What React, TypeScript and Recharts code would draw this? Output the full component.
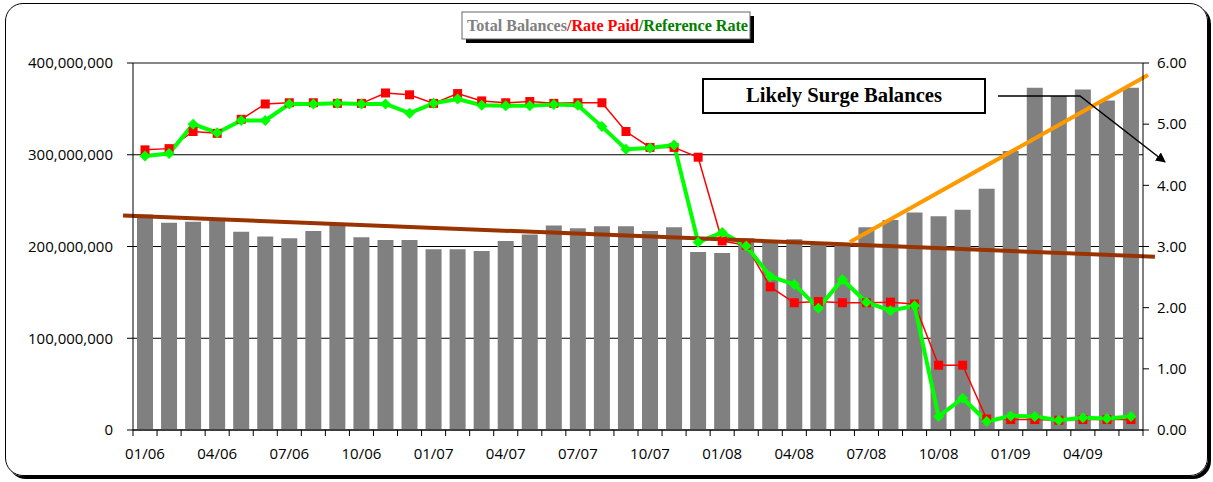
import React from "react";
import {
  ComposedChart,
  Bar,
  Line,
  XAxis,
  YAxis,
  CartesianGrid,
  ReferenceLine,
} from "recharts";

const months = [
  "01/06", "02/06", "03/06", "04/06", "05/06", "06/06", "07/06", "08/06", "09/06", "10/06", "11/06", "12/06",
  "01/07", "02/07", "03/07", "04/07", "05/07", "06/07", "07/07", "08/07", "09/07", "10/07", "11/07", "12/07",
  "01/08", "02/08", "03/08", "04/08", "05/08", "06/08", "07/08", "08/08", "09/08", "10/08", "11/08", "12/08",
  "01/09", "02/09", "03/09", "04/09", "05/09", "06/09",
];

// Total balances, in millions
const totalBalancesM = [
  235, 226, 227, 228, 216, 211, 209, 217, 224, 210, 207, 207,
  197, 197, 195, 206, 213, 223, 220, 222, 222, 217, 221, 194,
  193, 209, 205, 208, 203, 201, 221, 229, 237, 233, 240, 263,
  304, 373, 364, 371, 359, 373,
];

const ratePaid = [
  4.58, 4.6, 4.88, 4.85, 5.08, 5.33, 5.35, 5.35, 5.34, 5.34, 5.51, 5.48,
  5.34, 5.5, 5.38, 5.35, 5.37, 5.34, 5.35, 5.35, 4.88, 4.62, 4.62, 4.46,
  3.09, 3.02, 2.34, 2.08, 2.1, 2.08, 2.08, 2.09, 2.06, 1.06, 1.06, 0.18,
  0.17, 0.17, 0.16, 0.17, 0.17, 0.17,
];

const referenceRate = [
  4.48, 4.52, 5.0, 4.86, 5.06, 5.06, 5.33, 5.33, 5.34, 5.33, 5.33, 5.18,
  5.34, 5.41, 5.31, 5.3, 5.3, 5.32, 5.31, 4.96, 4.59, 4.61, 4.66, 3.07,
  3.23, 3.01, 2.51, 2.38, 1.99, 2.46, 2.09, 1.95, 2.03, 0.22, 0.52, 0.14,
  0.23, 0.22, 0.16, 0.2, 0.19, 0.22,
];

const leftTicks = [0, 100000000, 200000000, 300000000, 400000000];
const rightTicks = [0, 1, 2, 3, 4, 5, 6];

// trend lines (balance units)
const declineTrend = { from: "01/06", fromValue: 232.9e6, to: "06/09", toValue: 189.9e6 };
const surgeTrend = { from: "06/08", fromValue: 200.2e6, to: "06/09", toValue: 376.6e6 };

const data = months.map((m, i) => ({
  month: m,
  balance: totalBalancesM[i] * 1e6,
  paid: ratePaid[i],
  refRate: referenceRate[i],
}));

const W = 1213;
const H = 482;
const LEFT_W = 133;
const RIGHT_W = 70;
const PLOT_W = W - LEFT_W - RIGHT_W;
const BAND = PLOT_W / months.length;

const FONT = "'Open Sans', sans-serif";

const renderXTick = (props: any) => {
  const { x, y, payload, index } = props;
  const half = BAND / 2;
  return (
    <g key={`xt-${index}`}>
      <line x1={x - half} y1={y} x2={x - half} y2={y + 6} stroke="#000" strokeWidth={1} />
      {index === months.length - 1 && (
        <line x1={x + half} y1={y} x2={x + half} y2={y + 6} stroke="#000" strokeWidth={1} />
      )}
      {index % 3 === 0 && (
        <text x={x} y={y + 29} textAnchor="middle" fontFamily={FONT} fontSize={15} fill="#000">
          {payload.value}
        </text>
      )}
    </g>
  );
};

const renderSquareDot = (props: any) => {
  const { cx, cy, index } = props;
  if (cx == null || cy == null) return <g key={`sq-${index}`} />;
  return <rect key={`sq-${index}`} x={cx - 4.5} y={cy - 4.5} width={9} height={9} fill="#FF0000" />;
};

const renderDiamondDot = (props: any) => {
  const { cx, cy, index } = props;
  if (cx == null || cy == null) return <g key={`dm-${index}`} />;
  const r = 5.5;
  return (
    <polygon
      key={`dm-${index}`}
      points={`${cx},${cy - r} ${cx + r},${cy} ${cx},${cy + r} ${cx - r},${cy}`}
      fill="#00FF00"
    />
  );
};

const extendedLine = (startT: number, endT: number, color: string) => (props: any) => {
  const { x1, y1, x2, y2 } = props;
  if ([x1, y1, x2, y2].some((v) => v == null || isNaN(v))) return <g />;
  const dx = x2 - x1;
  const dy = y2 - y1;
  return (
    <line
      x1={x1 + dx * startT}
      y1={y1 + dy * startT}
      x2={x1 + dx * endT}
      y2={y1 + dy * endT}
      stroke={color}
      strokeWidth={4}
    />
  );
};

const declineShape = extendedLine(-0.0223, 1.0243, "#993300");
const surgeShape = extendedLine(0.026, 1.059, "#FF9900");

export default function App() {
  return (
    <div style={{ position: "absolute", left: 0, top: 0, width: W, height: H, background: "#fff" }}>
      <div
        style={{
          position: "absolute",
          left: 5,
          top: 3,
          width: 1203,
          height: 473,
          boxSizing: "border-box",
          border: "1.5px solid #000",
          borderRadius: 18,
          boxShadow: "3px 3px 0 #000",
        }}
      />
      <div style={{ position: "absolute", left: 0, top: 0 }}>
        <ComposedChart
          width={W}
          height={H}
          data={data}
          margin={{ top: 63, right: 0, bottom: 22, left: 0 }}
          barCategoryGap="33%"
        >
          <CartesianGrid yAxisId="left" vertical={false} stroke="#000" strokeWidth={1} />
          <XAxis
            dataKey="month"
            interval={0}
            tickSize={0}
            tickMargin={0}
            height={30}
            tick={renderXTick}
            stroke="#000"
          />
          <YAxis
            yAxisId="left"
            orientation="left"
            width={LEFT_W}
            domain={[0, 400000000]}
            ticks={leftTicks}
            tickFormatter={(v: number) => v.toLocaleString("en-US")}
            tickSize={6}
            tickMargin={14}
            stroke="#000"
            tick={{ fontFamily: FONT, fontSize: 15, fill: "#000" }}
          />
          <YAxis
            yAxisId="right"
            orientation="right"
            width={RIGHT_W}
            domain={[0, 6]}
            ticks={rightTicks}
            tickFormatter={(v: number) => v.toFixed(2)}
            tickSize={6}
            tickMargin={8}
            stroke="#000"
            tick={{ fontFamily: FONT, fontSize: 15, fill: "#000" }}
          />
          <ReferenceLine yAxisId="left" y={400000000} stroke="#888" strokeWidth={2} />
          <Bar yAxisId="left" dataKey="balance" fill="#808080" barSize={16} isAnimationActive={false} />
          <Line
            yAxisId="right"
            dataKey="paid"
            stroke="#FF0000"
            strokeWidth={1.5}
            dot={renderSquareDot}
            activeDot={false}
            isAnimationActive={false}
          />
          <Line
            yAxisId="right"
            dataKey="refRate"
            stroke="#00FF00"
            strokeWidth={4}
            dot={renderDiamondDot}
            activeDot={false}
            isAnimationActive={false}
          />
          <ReferenceLine
            yAxisId="left"
            ifOverflow="visible"
            segment={[
              { x: declineTrend.from, y: declineTrend.fromValue },
              { x: declineTrend.to, y: declineTrend.toValue },
            ]}
            shape={declineShape}
          />
          <ReferenceLine
            yAxisId="left"
            ifOverflow="visible"
            segment={[
              { x: surgeTrend.from, y: surgeTrend.fromValue },
              { x: surgeTrend.to, y: surgeTrend.toValue },
            ]}
            shape={surgeShape}
          />
        </ComposedChart>
      </div>
      <svg
        width={W}
        height={H}
        style={{ position: "absolute", left: 0, top: 0, pointerEvents: "none" }}
      >
        <defs>
          <marker id="arrowHead" markerWidth="10" markerHeight="10" refX="9" refY="5" orient="auto" markerUnits="userSpaceOnUse">
            <path d="M0,0 L10,5 L0,10 Z" fill="#000" />
          </marker>
        </defs>
        <rect x={466} y={16} width={288} height={27} fill="#000" />
        <rect x={462} y={12} width={288} height={27} fill="#fff" stroke="#666" strokeWidth={1} />
        <text
          x={467}
          y={31}
          fontFamily="'Liberation Serif', serif"
          fontWeight="bold"
          fontSize={16}
          textLength={281}
          lengthAdjust="spacingAndGlyphs"
        >
          <tspan fill="#808080">Total Balances</tspan>
          <tspan fill="#FF0000">/Rate Paid</tspan>
          <tspan fill="#008000">/Reference Rate</tspan>
        </text>
        <rect x={703} y={79} width={282} height={34} fill="#fff" stroke="#000" strokeWidth={2} />
        <text
          x={844}
          y={102}
          textAnchor="middle"
          fontFamily="'Liberation Serif', serif"
          fontWeight="bold"
          fontSize={20}
          fill="#000"
          textLength={196}
          lengthAdjust="spacingAndGlyphs"
        >
          Likely Surge Balances
        </text>
        <polyline
          points="998,96 1080,96 1165,162"
          fill="none"
          stroke="#000"
          strokeWidth={1.5}
          markerEnd="url(#arrowHead)"
        />
      </svg>
    </div>
  );
}
